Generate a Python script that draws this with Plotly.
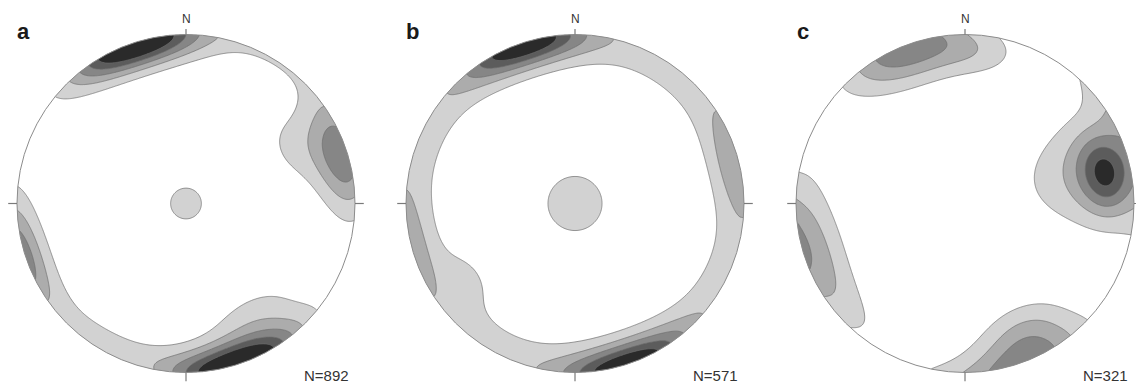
import numpy as np
import plotly.graph_objects as go

# ---------------------------------------------------------------------------
# Figure geometry (pixels)
# ---------------------------------------------------------------------------
FIG_W, FIG_H = 1136, 386
PX_PER_UNIT = 169.0          # primitive-circle radius
CENTER_Y_PX = 203.5          # circle centre, measured from the top edge
panel_center_x = [186, 575, 965]

# ---------------------------------------------------------------------------
# Data: pole concentrations for each stereonet (lower hemisphere, equal area)
#   trend / plunge in degrees, peak weight (multiples of uniform density),
#   angular spread along strike and across (degrees)
# ---------------------------------------------------------------------------
panel_labels = ["a", "b", "c"]
sample_sizes = [892, 571, 321]

a_trend = [342, 150, 73, 62, 208, 0]
a_plunge = [1, 22, 5, 30, 6, 90]
a_weight = [6.6, 1.3, 3.4, 1.0, 1.0, 1.4]
a_along = [15, 14, 13, 12, 25, 9]
a_across = [10.5, 12, 12, 12, 10, 9]
a_girdle = [0.3, 15]          # weight, spread about the horizontal

b_trend = [342, 76, 235, 0]
b_plunge = [1, 3, 25, 90]
b_weight = [4.8, 1.4, 0.8, 1.5]
b_along = [14, 12, 10, 14.4]
b_across = [10, 10, 10, 14.4]
b_girdle = [1.6, 15]

c_trend = [78, 76, 246, 340, 5, 155]
c_plunge = [17, 22, 8, 4, 12, 18]
c_weight = [3.2, 2.2, 1.6, 3.5, 1.0, 1.6]
c_along = [10, 16, 24, 16, 11, 12]
c_across = [10, 26, 12, 14, 10, 12]
c_girdle = [0.0, 15]

contour_levels = [1, 2, 3, 4, 5]
fill_colors = ["#ffffff", "#d2d2d2", "#acacac", "#868686", "#5c5c5c", "#2a2a2a"]

panels = [
    (a_trend, a_plunge, a_weight, a_along, a_across, a_girdle),
    (b_trend, b_plunge, b_weight, b_along, b_across, b_girdle),
    (c_trend, c_plunge, c_weight, c_along, c_across, c_girdle),
]


def density_grid(xg, yg, trend, plunge, weight, along, across, girdle):
    """Axial density on the lower hemisphere, sampled at projected points."""
    r = np.clip(np.hypot(xg, yg), 0, 1)
    theta = 2 * np.arcsin(r / np.sqrt(2))           # angle from vertical
    az = np.arctan2(xg, yg)
    v = np.stack([np.sin(theta) * np.sin(az),
                  np.sin(theta) * np.cos(az),
                  np.cos(theta)])                    # east, north, down
    sg = np.radians(girdle[1])
    dens = girdle[0] * np.exp(-v[2] ** 2 / (2 * sg ** 2))
    for t, p, w, sa, sc in zip(trend, plunge, weight, along, across):
        t, p = np.radians(t), np.radians(p)
        c = np.array([np.cos(p) * np.sin(t), np.cos(p) * np.cos(t), np.sin(p)])
        e1 = np.array([np.cos(t), -np.sin(t), 0.0])
        e2 = np.array([-np.sin(p) * np.sin(t), -np.sin(p) * np.cos(t), np.cos(p)])
        d = np.tensordot(c, v, 1)
        u1 = np.tensordot(e1, v, 1)
        u2 = np.tensordot(e2, v, 1)
        alpha = np.arccos(np.clip(np.abs(d), 0, 1))
        s2 = np.maximum(u1 ** 2 + u2 ** 2, 1e-12)
        cos2 = u1 ** 2 / s2
        sin2 = u2 ** 2 / s2
        sa_r, sc_r = np.radians(sa), np.radians(sc)
        dens += w * np.exp(-alpha ** 2 * (cos2 / (2 * sa_r ** 2) + sin2 / (2 * sc_r ** 2)))
    return dens


grid = np.linspace(-1.06, 1.06, 181)
XG, YG = np.meshgrid(grid, grid)

y_lo = -(FIG_H - CENTER_Y_PX) / PX_PER_UNIT
y_hi = CENTER_Y_PX / PX_PER_UNIT

fig = go.Figure()
layout_axes = {}
shapes = []
annotations = []

circ_t = np.linspace(0, 2 * np.pi, 721)
circ_x, circ_y = np.cos(circ_t), np.sin(circ_t)
mask_path = "M -1.3,-1.3 L 1.3,-1.3 L 1.3,1.4 L -1.3,1.4 Z " + \
    "M " + " L ".join(f"{x:.4f},{y:.4f}" for x, y in zip(circ_x, circ_y)) + " Z"

colorscale = [[i / (len(fill_colors) - 1), col] for i, col in enumerate(fill_colors)]

for i, (params, cx) in enumerate(zip(panels, panel_center_x)):
    k = "" if i == 0 else str(i + 1)
    xr_left = -1.1
    xr_right = min(1.1, (FIG_W - cx) / PX_PER_UNIT)
    d0 = (cx + xr_left * PX_PER_UNIT) / FIG_W
    d1 = (cx + xr_right * PX_PER_UNIT) / FIG_W
    layout_axes[f"xaxis{k}"] = dict(domain=[max(d0, 0), min(d1, 1)], range=[xr_left, xr_right],
                                    visible=False, fixedrange=True)
    layout_axes[f"yaxis{k}"] = dict(domain=[0, 1], range=[y_lo, y_hi], anchor=f"x{k}",
                                    visible=False, fixedrange=True)
    z = density_grid(XG, YG, *params)
    fig.add_trace(go.Contour(
        x=grid, y=grid, z=z,
        contours=dict(start=contour_levels[0], end=contour_levels[-1],
                      size=contour_levels[1] - contour_levels[0], coloring="fill"),
        colorscale=colorscale, showscale=False,
        line=dict(color="#6e6e6e", width=0.7, smoothing=0.8),
        hoverinfo="skip", xaxis=f"x{k}", yaxis=f"y{k}",
    ))
    xref, yref = f"x{k}", f"y{k}"
    shapes.append(dict(type="path", path=mask_path, xref=xref, yref=yref,
                       fillcolor="white", line=dict(width=0), layer="above"))
    shapes.append(dict(type="circle", x0=-1, x1=1, y0=-1, y1=1, xref=xref, yref=yref,
                       line=dict(color="#8c8c8c", width=1)))
    tick = 0.052
    for (x0, y0, x1, y1) in [(0, 1, 0, 1 + 0.032), (0, -1, 0, -1 - tick),
                             (-1, 0, -1 - tick, 0), (1, 0, 1 + tick, 0)]:
        shapes.append(dict(type="line", x0=x0, y0=y0, x1=x1, y1=y1, xref=xref, yref=yref,
                           line=dict(color="#7a7a7a", width=1.2)))
    annotations.append(dict(text="N", x=0.005, y=(CENTER_Y_PX - 19) / PX_PER_UNIT,
                            xref=xref, yref=yref, showarrow=False,
                            font=dict(family="Liberation Sans, Arial", size=12, color="#333333"),
                            xanchor="center", yanchor="middle"))
    annotations.append(dict(text=panel_labels[i], x=-0.96, y=(CENTER_Y_PX - 31) / PX_PER_UNIT,
                            xref=xref, yref=yref, showarrow=False,
                            font=dict(family="Liberation Sans, Arial", size=22, color="#1a1a1a",
                                      weight="bold"),
                            xanchor="center", yanchor="middle"))
    annotations.append(dict(text=f"N={sample_sizes[i]}", x=0.975,
                            y=(CENTER_Y_PX - 375) / PX_PER_UNIT,
                            xref=xref, yref=yref, showarrow=False,
                            font=dict(family="Liberation Sans, Arial", size=15, color="#333333"),
                            xanchor="right", yanchor="middle"))

fig.update_layout(
    width=FIG_W, height=FIG_H,
    margin=dict(l=0, r=0, t=0, b=0),
    paper_bgcolor="white", plot_bgcolor="white",
    showlegend=False,
    shapes=shapes, annotations=annotations,
    **layout_axes,
)

fig.write_html("out.html")
